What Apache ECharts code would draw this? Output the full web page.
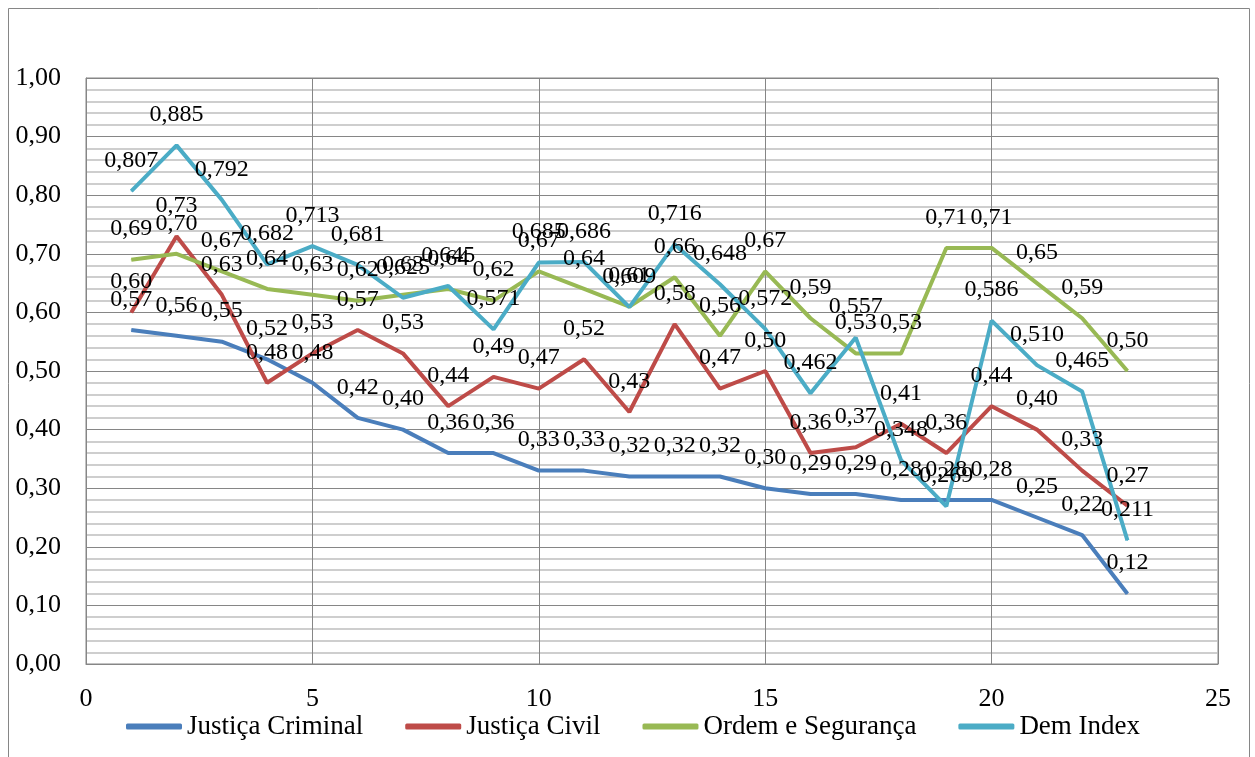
<!DOCTYPE html>
<html><head><meta charset="utf-8">
<script src="https://cdn.jsdelivr.net/npm/echarts@6/dist/echarts.min.js"></script>
<style>html,body{margin:0;padding:0;background:#fff}#c{width:1255px;height:757px}</style>
</head><body><div id="c"></div>
<script>
var xValues = [1,2,3,4,5,6,7,8,9,10,11,12,13,14,15,16,17,18,19,20,21,22,23];
var justicaCriminal = [0.57,0.56,0.55,0.52,0.48,0.42,0.40,0.36,0.36,0.33,0.33,0.32,0.32,0.32,0.30,0.29,0.29,0.28,0.28,0.28,0.25,0.22,0.12];
var justicaCivil = [0.60,0.73,0.63,0.48,0.53,0.57,0.53,0.44,0.49,0.47,0.52,0.43,0.58,0.47,0.50,0.36,0.37,0.41,0.36,0.44,0.40,0.33,0.27];
var ordemSeguranca = [0.69,0.70,0.67,0.64,0.63,0.62,0.63,0.64,0.62,0.67,0.64,0.61,0.66,0.56,0.67,0.59,0.53,0.53,0.71,0.71,0.65,0.59,0.50];
var demIndex = [0.807,0.885,0.792,0.682,0.713,0.681,0.625,0.645,0.571,0.685,0.686,0.609,0.716,0.648,0.572,0.462,0.557,0.348,0.269,0.586,0.510,0.465,0.211];
var seriesNames = ['Justiça Criminal','Justiça Civil','Ordem e Segurança','Dem Index'];
var seriesData = [justicaCriminal, justicaCivil, ordemSeguranca, demIndex];
var seriesDecimals = [2,2,2,3];
var colors = ['#4A7EBB','#BE4B48','#98B954','#4BACC6'];
var serif = 'Liberation Serif';

function pairs(arr){ return xValues.map(function(x,i){ return [x, arr[i]]; }); }

var chart = echarts.init(document.getElementById('c'));
chart.setOption({
  animation:false,
  graphic:[{type:'rect', shape:{x:8.5,y:8.5,width:1241,height:770}, style:{fill:'none',stroke:'#868686',lineWidth:1}, z:-1}],
  grid:{left:86, top:78, right:37, bottom:93, show:true, borderColor:'#868686', borderWidth:1},
  xAxis:{type:'value', min:0, max:25, interval:5,
    axisLine:{show:true, lineStyle:{color:'#868686'}}, axisTick:{show:false},
    axisLabel:{fontFamily:serif, fontSize:26, color:'#000', margin:22},
    splitLine:{show:true, lineStyle:{color:'#868686', width:1}}},
  yAxis:{type:'value', min:0, max:1, interval:0.1,
    axisLine:{show:true, lineStyle:{color:'#868686'}}, axisTick:{show:false},
    axisLabel:{fontFamily:serif, fontSize:26, color:'#000', margin:25,
      formatter:function(v){ return v.toFixed(2).replace('.',','); }},
    splitLine:{show:true, lineStyle:{color:'#868686', width:1}},
    minorTick:{show:false, splitNumber:5},
    minorSplitLine:{show:true, lineStyle:{color:'#bfbfbf', width:1.5}}},
  legend:{left:121, top:708, itemWidth:56, itemHeight:6, itemGap:42, icon:'roundRect',
    textStyle:{fontFamily:serif, fontSize:27, color:'#000'},
    data:seriesNames},
  series: seriesData.map(function(d, k){
    return {type:'line', name:seriesNames[k], data:pairs(d), color:colors[k],
      symbol:'circle', symbolSize:1, showSymbol:true,
      lineStyle:{width:4, color:colors[k]}, itemStyle:{color:colors[k]},
      label:{show:true, position:'top', distance:18, fontFamily:serif, fontSize:24, color:'#000',
        formatter:function(p){ return p.value[1].toFixed(seriesDecimals[k]).replace('.',','); }},
      labelLayout:{hideOverlap:false}
    };
  })
});
</script></body></html>
